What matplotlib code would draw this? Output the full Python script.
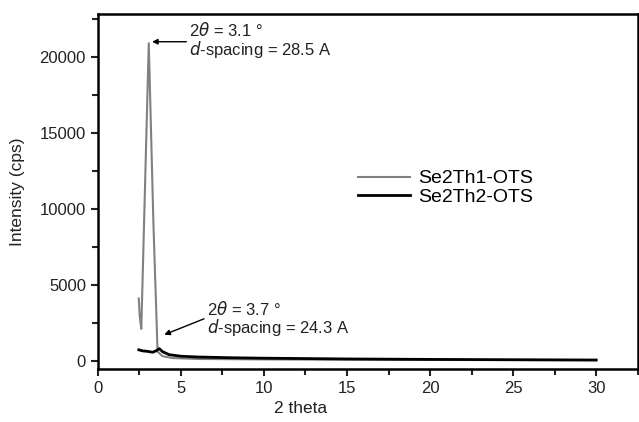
import matplotlib.pyplot as plt
from matplotlib.ticker import MultipleLocator

plt.rcParams['font.family'] = ['Liberation Sans', 'DejaVu Sans']

# Datos
x_th1 = [2.47, 2.52, 2.62, 3.07, 3.35, 3.6, 3.9, 4.5, 6, 10, 15, 20, 25, 30]
y_th1 = [4100, 3000, 2100, 20900, 9000, 600, 300, 180, 120, 90, 70, 55, 45, 35]

x_th2 = [2.47, 2.7, 3.0, 3.3, 3.5, 3.7, 3.9, 4.3, 5, 6, 8, 10, 15, 20, 25, 30]
y_th2 = [720, 650, 620, 560, 650, 800, 600, 400, 300, 250, 200, 170, 120, 90, 70, 50]

fig = plt.figure(figsize=(6.39, 4.22), dpi=100)
ax = fig.add_axes([0.153, 0.126, 0.845, 0.841])

ax.plot(x_th1, y_th1, color='#808080', lw=1.5, label='Se2Th1-OTS')
ax.plot(x_th2, y_th2, color='black', lw=2.0, label='Se2Th2-OTS')

ax.set_xlim(0, 32.5)
ax.set_ylim(-530, 22830)
ax.xaxis.set_major_locator(MultipleLocator(5))
ax.xaxis.set_minor_locator(MultipleLocator(2.5))
ax.yaxis.set_major_locator(MultipleLocator(5000))
ax.yaxis.set_minor_locator(MultipleLocator(2500))
ax.tick_params(which='both', direction='out', width=1.5, labelsize=12, colors='#222222')
ax.tick_params(which='major', length=5)
ax.tick_params(which='minor', length=4)
for s in ax.spines.values():
    s.set_linewidth(1.8)

ax.set_xlabel('2 theta', fontsize=12.5, color='#222222')
ax.xaxis.set_label_coords(0.376, -0.09)
ax.set_ylabel('Intensity (cps)', fontsize=12.5, color='#222222')
ax.yaxis.set_label_coords(-0.135, 0.5)

# Anotaciones
ax.annotate('', xy=(3.1, 21000), xytext=(5.5, 21000),
            arrowprops=dict(arrowstyle='-|>', color='black', lw=1, mutation_scale=8))
ax.text(5.5, 21780, r'2$\theta$ = 3.1 °', fontsize=12, va='center', color='#222222')
ax.text(5.5, 20500, r'$d$-spacing = 28.5 A', fontsize=12, va='center', color='#222222')

ax.annotate('', xy=(3.85, 1650), xytext=(6.55, 2830),
            arrowprops=dict(arrowstyle='-|>', color='black', lw=1, mutation_scale=8))
ax.text(6.6, 3400, r'2$\theta$ = 3.7 °', fontsize=12, va='center', color='#222222')
ax.text(6.6, 2200, r'$d$-spacing = 24.3 A', fontsize=12, va='center', color='#222222')

ax.legend(loc='center left', bbox_to_anchor=(0.449, 0.51), frameon=False,
          fontsize=14, handlelength=2.7, handletextpad=0.4, labelspacing=0.05)

fig.savefig('out.png', dpi=100)
